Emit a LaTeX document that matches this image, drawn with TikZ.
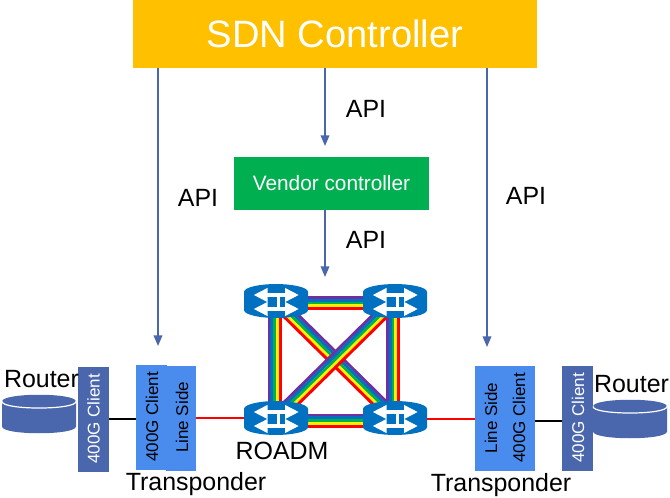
\documentclass[tikz,border=0pt]{standalone}
\usepackage{fontspec}
\setmainfont{Liberation Sans}
\usetikzlibrary{calc,backgrounds,arrows.meta}
\definecolor{apiblue}{RGB}{74,102,172}
\definecolor{sideblue}{RGB}{74,139,238}
\definecolor{roadmblue}{RGB}{0,112,192}
\definecolor{sdnyellow}{RGB}{255,192,0}
\definecolor{vendorgreen}{RGB}{0,176,80}
\definecolor{bandpurple}{RGB}{112,48,160}
\tikzset{every picture/.style={line width=0.75pt}}
\tikzset{
  lbl/.style={inner sep=0pt,font=\fontsize{18.7}{20}\selectfont},
  api/.style={draw=apiblue,line width=1.1pt,-{Triangle[length=8pt,width=6.5pt]}},
  client/.style={anchor=north west,inner sep=0pt,outer sep=0pt,fill=apiblue,minimum width=23.25pt,minimum height=78.75pt},
  side/.style={anchor=north west,inner sep=0pt,outer sep=0pt,fill=sideblue,minimum height=78.75pt},
  vtext/.style={inner sep=0pt,rotate=90,font=\fontsize{12.75}{14}\selectfont},
  redline/.style={draw=red,line width=1.1pt},
  blackline/.style={draw=black,line width=2.1pt},
  roadm/.style={inner sep=0pt,outer sep=0pt,minimum width=48pt,minimum height=25.5pt},
  router/.style={inner sep=0pt,outer sep=0pt,minimum width=55.5pt,minimum height=28.5pt},
  roadmarrow/.style={white,line width=3pt,{Triangle[length=10.5pt,width=9.75pt]}-{Triangle[length=10.5pt,width=9.75pt]}},
}
% one link between two ROADMs, purple on the left of the direction
\newcommand{\rainbowlink}[3]{
  \foreach \bandcol/\off in {bandpurple/4.2,roadmblue/2.1,vendorgreen/0,yellow/-2.1,red/-4.2}{
    \draw[\bandcol,line width=2.2pt] ($(#1)!\off pt+#3!-90:(#2)$) -- ($(#2)!\off pt+#3!90:(#1)$);
  }
}
\newcommand{\roadmicon}[1]{
  \begin{scope}[shift={(#1)}]
    \fill[roadmblue] (-32,0) -- (-32,-9) .. controls (-32,-14) and (-15,-17) .. (0,-17) .. controls (15,-17) and (32,-14) .. (32,-9) -- (32,9) .. controls (32,14) and (15,17) .. (0,17) .. controls (-15,17) and (-32,14) .. (-32,9) -- cycle;
    \draw[roadmarrow] (-22.5,-6) -- (23,-6);
    \draw[roadmarrow] (-22.5,8) -- (23,8);
    \draw[white,line width=2.2pt] (2.5,-6) -- (2.5,8);
  \end{scope}
}
\newcommand{\routericon}[1]{
  \begin{scope}[shift={(#1)}]
    \fill[apiblue] (-37,-12.5) .. controls (-37,-21.5) and (37,-21.5) .. (37,-12.5) -- (37,12.5) .. controls (37,21.5) and (-37,21.5) .. (-37,12.5) -- cycle;
    \draw[white,line width=0.9pt] (-37,-12.5) .. controls (-37,-3.8) and (37,-3.8) .. (37,-12.5);
  \end{scope}
}
\begin{document}
\begin{tikzpicture}[x=0.75pt,y=0.75pt,yscale=-1,xscale=1]
\useasboundingbox (0,0) rectangle (670,498);

% controllers
\node[fill=sdnyellow,text=white,inner sep=0pt,outer sep=0pt,minimum width=303pt,minimum height=51pt,font=\fontsize{28.6}{32}\selectfont] (sdn) at (335,34) {SDN Controller};
\node[fill=vendorgreen,text=white,inner sep=0pt,outer sep=0pt,minimum width=146.25pt,minimum height=39.75pt,font=\fontsize{15.6}{18}\selectfont] (vendor) at (331.5,183.5) {Vendor controller};

% ROADM ring
\node[roadm] (r1) at (276,301) {};
\node[roadm] (r2) at (395,301) {};
\node[roadm] (r3) at (276,418) {};
\node[roadm] (r4) at (395,418) {};
\rainbowlink{r3}{r1}{1pt}
\rainbowlink{r4}{r2}{1.5pt}
\rainbowlink{r1}{r2}{-1.5pt}
\rainbowlink{r3}{r4}{-2pt}
\rainbowlink{r1}{r4}{0pt}
\rainbowlink{r3}{r2}{0pt}
\foreach \nn in {r1,r2,r3,r4}{\roadmicon{\nn}}

% left side
\node[client] (cl1) at (78,367) {};
\node[side,minimum width=23.25pt] (tc1) at (136,365) {};
\node[side,minimum width=22.5pt] (ls1) at (166,366) {};
\node[router] (rt1) at (39,414) {};
\routericon{rt1}
\node[vtext,text=white] (tx1) at (93.5,419) {400G Client};
\node[vtext] (tx2) at (152,417) {400G Client};
\node[vtext] (tx3) at (182,417.5) {Line Side};
\node[lbl] (lr1) at (41.5,379) {Router};
\node[lbl] (ltp) at (196,484) {Transponder};

% right side
\node[side,minimum width=45pt] (tp2) at (475,366) {};
\node[client] (cl2) at (562,366) {};
\node[router] (rt2) at (630,419) {};
\routericon{rt2}
\node[vtext] (tx4) at (491,418) {Line Side};
\node[vtext] (tx5) at (519,418) {400G Client};
\node[vtext,text=white] (tx6) at (578,418) {400G Client};
\node[lbl] (lr2) at (631.5,384) {Router};
\node[lbl] (rtp) at (501,485) {Transponder};

\node[lbl] (lroadm) at (282,451) {ROADM};

% connections
\coordinate (a1) at (158,346);
\coordinate (a2) at (487,347);
\coordinate (a3) at (325,146);
\coordinate (a4) at (325,277);
\draw[api] (sdn.south -| a1) -- (a1);
\draw[api] (sdn.south -| a2) -- (a2);
\draw[api] (sdn.south -| a3) -- (a3);
\draw[api] (vendor.south -| a4) -- (a4);
\draw[blackline] (cl1.east |- 0,419) -- (tc1.west |- 0,419);
\draw[blackline] (tp2.east |- 0,421) -- (cl2.west |- 0,421);
\draw[redline] (ls1.east |- 0,418) -- (r3.west |- 0,418);
\draw[redline] (r4.east |- 0,419) -- (tp2.west |- 0,419);

% API labels
\node[lbl] (api1) at (366,109) {API};
\node[lbl] (api2) at (198,198) {API};
\node[lbl] (api3) at (526,196) {API};
\node[lbl] (api4) at (366,240) {API};
\end{tikzpicture}
\end{document}
